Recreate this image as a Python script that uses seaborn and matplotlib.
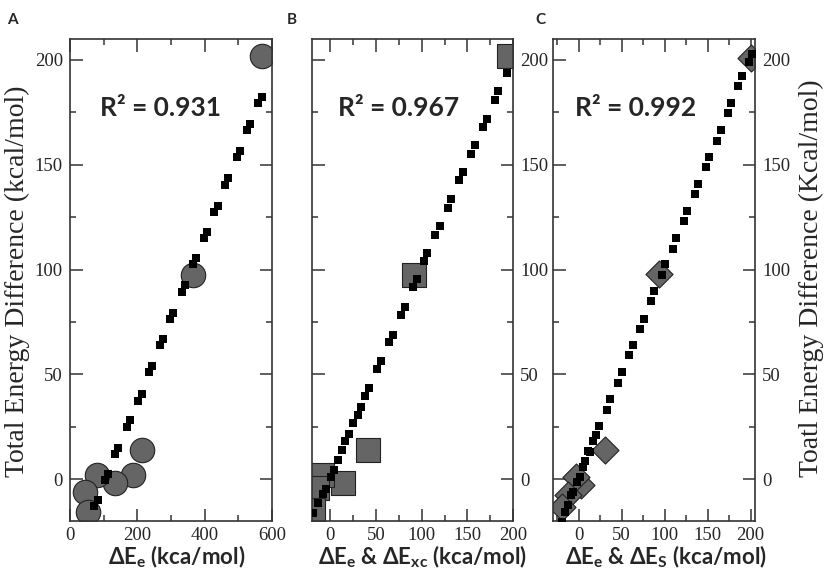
import matplotlib
matplotlib.use("Agg")
import matplotlib.pyplot as plt
from matplotlib.ticker import MultipleLocator
import seaborn as sns

# small black squares (fit trend) and big grey markers (data)
a_fit_x1 = [559, 525, 495, 460, 429, 398, 364, 332, 297, 267, 235, 203, 168, 134, 104, 72]
a_fit_y1 = [179.5, 166.5, 153.5, 140.5, 127.5, 115, 102.5, 89.5, 76.5, 64, 51, 37.5, 25, 12, -0.5, -13]
a_fit_x2 = [569, 535, 505, 470, 439, 408, 374, 342, 307, 277, 245, 213, 178, 144, 114, 82]
a_fit_y2 = [182.5, 169.5, 156.5, 143.5, 130.5, 118, 105.5, 92.5, 79.5, 67, 54, 40.5, 28, 15, 2.5, -10]
a_big_x = [569, 364, 213, 188, 134, 79, 45, 54]
a_big_y = [202, 97.6, 13.8, 1.9, -2, 1.9, -6, -15.6]

b_fit_x = [193, 184, 180.5, 172, 167, 158, 154, 145.5, 141, 132.5, 128.5, 120, 115, 106, 102.5,
           94.5, 90.5, 82, 77, 68.5, 64, 55.5, 51.5, 42.5, 38.5, 33.5, 30, 25, 20.5, 16.5, 12.5,
           8, 4, 0.5, -5, -8, -13, -18.5]
b_fit_y = [194, 185, 181, 172, 168, 159.5, 155, 146.5, 142.5, 133.5, 129.5, 121, 116.5, 108, 104,
           95.5, 91.5, 82, 78.5, 69, 65.5, 56.5, 52.5, 43.5, 39.5, 34.5, 30.5, 27, 21.5, 18, 14,
           9, 4.5, 1, -4.5, -7, -11.5, -16]
b_big_x = [196, 91.4, 41.4, 14, -9.5, -15, -18.7]
b_big_y = [202, 97.6, 13.8, -2, 1.9, -4.4, -14.8]

c_fit_x1 = [198, 185.5, 173.5, 161, 148, 135, 122, 109.5, 96.5, 84, 71.5, 59, 46, 32.5, 20.5, 13,
            7, 1, -6.5, -12.5, -20]
c_fit_y1 = [199, 187.5, 174.5, 161.5, 149, 136, 123, 110, 97.5, 85, 71.5, 59, 46, 33, 21, 13,
            8.5, 1, -6, -12.5, -20.5]
c_fit_x2 = [201, 189.5, 177.5, 165, 152, 139, 126, 113.5, 100.5, 88, 75.5, 63, 50, 36.5, 24, 16.5,
            11, 5, -2.5, -8.5, -16]
c_fit_y2 = [203, 192.5, 179.5, 166.5, 153.5, 141, 128, 115, 102.5, 90, 76.5, 64, 51, 38, 25.5, 18,
            13.5, 6, -1.5, -7.5, -15.5]
c_big_x = [200, 93.8, 30, 3, -2.7, -12, -20]
c_big_y = [201, 98, 13.8, -2.9, 1.1, -7.6, -13.2]

r2_labels = ['R² = 0.931', 'R² = 0.967', 'R² = 0.992']
panel_letters = ['A', 'B', 'C']
x_labels = [r'$\mathbf{\Delta E_e}$ (kca/mol)',
            r'$\mathbf{\Delta E_e}$ & $\mathbf{\Delta E_{xc}}$ (kca/mol)',
            r'$\mathbf{\Delta E_e}$ & $\mathbf{\Delta E_S}$ (kca/mol)']

sns.set_style('ticks')
plt.rcParams['font.family'] = ['Liberation Serif', 'DejaVu Serif']
plt.rcParams['mathtext.fontset'] = 'custom'
plt.rcParams['mathtext.rm'] = 'Lato'
plt.rcParams['mathtext.bf'] = 'Lato:bold'
plt.rcParams['mathtext.it'] = 'Lato:italic'

grey = '#656565'
fig = plt.figure(figsize=(8.29, 5.74), dpi=100)
ax_a = fig.add_axes([0.0844, 0.0923, 0.2437, 0.8397])
ax_b = fig.add_axes([0.3764, 0.0923, 0.2425, 0.8397])
ax_c = fig.add_axes([0.6670, 0.0923, 0.2437, 0.8397])
axes = [ax_a, ax_b, ax_c]

sns.scatterplot(x=a_big_x, y=a_big_y, marker='o', s=310, color=grey, edgecolor='#222222',
                linewidth=0.8, ax=ax_a, zorder=2)
sns.scatterplot(x=a_fit_x1 + a_fit_x2, y=a_fit_y1 + a_fit_y2, marker='s', s=26, color='black',
                edgecolor='black', linewidth=0, ax=ax_a, zorder=3)

sns.scatterplot(x=b_big_x, y=b_big_y, marker='s', s=280, color=grey, edgecolor='#222222',
                linewidth=0.8, ax=ax_b, zorder=2)
sns.scatterplot(x=b_fit_x, y=b_fit_y, marker='s', s=26, color='black',
                edgecolor='black', linewidth=0, ax=ax_b, zorder=3)

sns.scatterplot(x=c_big_x, y=c_big_y, marker='D', s=190, color=grey, edgecolor='#222222',
                linewidth=0.8, ax=ax_c, zorder=2)
sns.scatterplot(x=c_fit_x1 + c_fit_x2, y=c_fit_y1 + c_fit_y2, marker='s', s=26, color='black',
                edgecolor='black', linewidth=0, ax=ax_c, zorder=3)

ax_a.set(xlim=(0, 600), ylim=(-20, 210))
ax_b.set(xlim=(-20, 200), ylim=(-20, 210))
ax_c.set(xlim=(-30, 205), ylim=(-20, 210))
ax_a.xaxis.set_major_locator(MultipleLocator(200))
ax_a.xaxis.set_minor_locator(MultipleLocator(100))
for ax in [ax_b, ax_c]:
    ax.xaxis.set_major_locator(MultipleLocator(50))
    ax.xaxis.set_minor_locator(MultipleLocator(25))

r2_x = [0.149, 0.129, 0.109]
label_x = [0.53, 0.55, 0.56]
for i, ax in enumerate(axes):
    ax.yaxis.set_major_locator(MultipleLocator(50))
    ax.yaxis.set_minor_locator(MultipleLocator(25))
    for sp in ax.spines.values():
        sp.set_visible(True)
        sp.set_color('#333333')
        sp.set_linewidth(1.2)
    ax.tick_params(which='both', direction='in', top=True, right=True, bottom=True, left=True,
                   color='#333333', width=1.1, labelsize=13.5, pad=5)
    ax.tick_params(which='major', length=9)
    ax.tick_params(which='minor', length=4)
    ax.tick_params(axis='x', pad=4)
    if i > 0:
        ax.tick_params(axis='y', labelleft=False, labelright=True)
    ax.set_xlabel(x_labels[i], fontsize=16, fontweight='bold', family='Lato')
    ax.xaxis.set_label_coords(label_x[i], -0.048)
    ax.set_ylabel('')
    ax.text(r2_x[i], 0.857, r2_labels[i], transform=ax.transAxes, fontsize=19,
            fontweight='bold', family='Lato', ha='left', va='center')

fig.text(17 / 829, 0.51, 'Total Energy Difference (kcal/mol)', rotation=90, fontsize=20,
         ha='center', va='center')
fig.text(811 / 829, 0.515, 'Toatl Energy Difference (Kcal/mol)', rotation=90, fontsize=20,
         ha='center', va='center')
letter_x = [7, 287, 535]
for lx, letter in zip(letter_x, panel_letters):
    fig.text(lx / 829, 1 - 20 / 574, letter, fontsize=11, fontweight='bold', family='Lato',
             ha='left', va='center')

fig.savefig('out.png', dpi=100)
